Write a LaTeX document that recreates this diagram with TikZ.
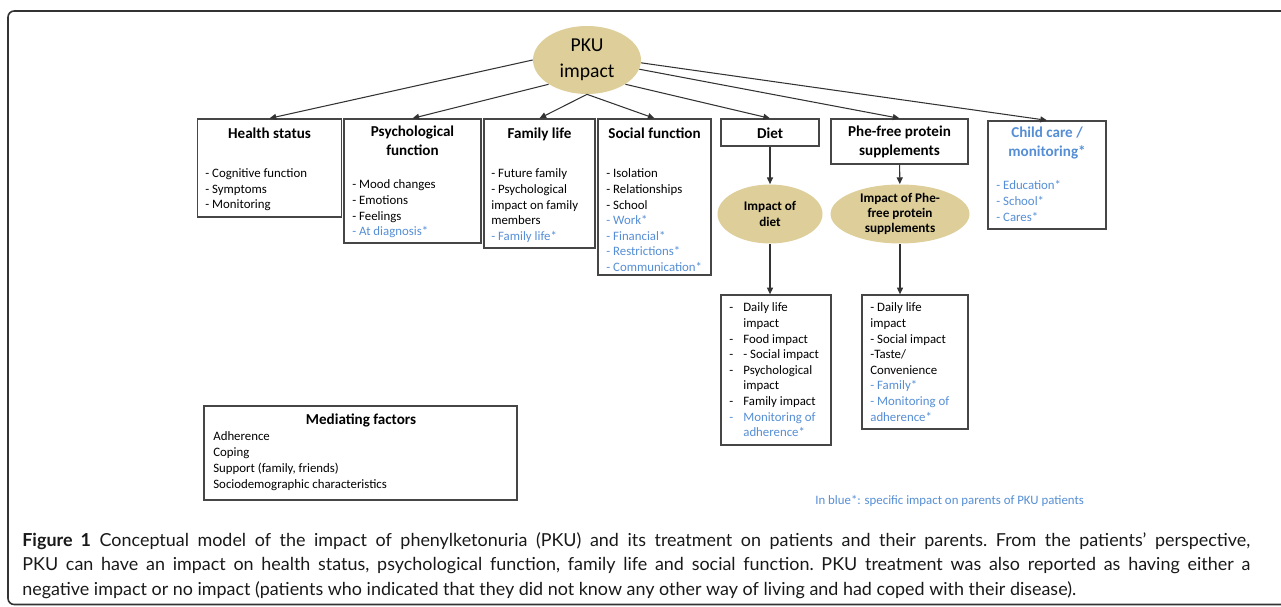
\documentclass[tikz,border=0pt]{standalone}
\usepackage{fontspec}
\setmainfont{Carlito}
\newfontfamily\captionfont{Lato}
\usetikzlibrary{ arrows.meta,      % For the small triangle tips
                 fit,              % For boxes given by their corners
                 shapes.geometric, % For ellipse
                 positioning,
               }

\definecolor{pkutan}{RGB}{221,206,154}
\definecolor{parentblue}{RGB}{85,142,213}
\definecolor{boxline}{RGB}{70,70,70}
\newcommand{\pb}[1]{\textcolor{parentblue}{#1}}
\newcommand{\itemdash}{\makebox[0.28cm][l]{-}}
\newcommand{\itemgap}{\hspace*{0.28cm}}

\begin{document}
\begin{tikzpicture}[x=0.02cm, y=-0.02cm,
    box/.style={draw=boxline, line width=0.75pt, inner sep=0pt},
    bubble/.style={ellipse, fill=pkutan, inner sep=0pt},
    head/.style={inner sep=0pt, align=center, anchor=north, execute at begin node=\strut,
                 font=\bfseries\fontsize{8.6}{10.8}\selectfont},
    items/.style={inner sep=0pt, align=left, anchor=north west, execute at begin node=\strut,
                  font=\fontsize{7.3}{8.9}\selectfont},
    arr/.style={draw=black!80, line width=0.6pt, -{Triangle[length=3.8pt,width=3.4pt]}},
  ] % pixels of the reference as units
  \useasboundingbox (0,0) rectangle (1281,607);
  \draw[draw=black!80, line width=0.9pt, rounded corners=3.5pt] (1300,11) -| (8,604.5) -- (1300,604.5);

  \node[bubble, minimum width=2.16cm, minimum height=1.36cm] (pku) at (587,60) {};
  \node[inner sep=0pt, align=center, font=\fontsize{11.2}{14.5}\selectfont] (pku_t) at (pku) {PKU\\impact};

  % first row
  \node[box, fit={(197.6,119) (341.5,217)}] (health) {};
  \node[head] (health_t) at (269.5,125) {Health status};
  \node[items] (health_l) at (205,168.5) {- Cognitive function\\- Symptoms\\- Monitoring};

  \node[box, fit={(344,119) (481,243)}] (psych) {};
  \node[head] (psych_t) at (412.5,126) {Psychological\\function};
  \node[items] (psych_l) at (352,179.5) {- Mood changes\\- Emotions\\- Feelings\\\pb{- At diagnosis*}};

  \node[box, fit={(484,119) (595,248)}] (family_life) {};
  \node[head] (family_t) at (539.5,125) {Family life};
  \node[items] (family_l) at (491,168.5) {- Future family\\- Psychological\\impact on family\\members\\\pb{- Family life*}};

  \node[box, fit={(598,119) (711,275)}] (social) {};
  \node[head] (social_t) at (654.5,125) {Social function};
  \node[items] (social_l) at (606,168.5) {- Isolation\\- Relationships\\- School\\\pb{- Work*}\\\pb{- Financial*}\\\pb{- Restrictions*}\\\pb{- Communication*}};

  \node[box, fit={(721,119) (819,146)}] (diet) {};
  \node[head] (diet_t) at (770,125) {Diet};

  \node[box, fit={(831,119) (968,164)}] (phe_free) {};
  \node[head] (phe_free_t) at (899.5,126) {Phe-free protein\\supplements};

  \node[box, fit={(988,121) (1106,229)}] (child_care) {};
  \node[head, text=parentblue] (child_t) at (1047,127) {Child care /\\monitoring*};
  \node[items, text=parentblue] (child_l) at (996,180.5) {- Education*\\- School*\\- Cares*};

  % treatment effects
  \node[bubble, minimum width=2.1cm, minimum height=1.18cm] (diet_impact) at (770,214) {};
  \node[inner sep=0pt, align=center, font=\bfseries\fontsize{7.5}{8.6}\selectfont] (diet_impact_t) at (diet_impact) {Impact of\\diet};
  \node[bubble, minimum width=2.78cm, minimum height=1.18cm] (phe_impact) at (900,214) {};
  \node[inner sep=0pt, align=center, font=\bfseries\fontsize{7.5}{8.6}\selectfont] (phe_impact_t) at (phe_impact) {Impact of Phe-\\free protein\\supplements};

  \node[box, fit={(721,295) (831,445)}] (diet_effects) {};
  \node[items] (diet_effects_l) at (729,302.5) {\itemdash Daily life\\\itemgap impact\\\itemdash Food impact\\\itemdash - Social impact\\\itemdash Psychological\\\itemgap impact\\\itemdash Family impact\\\pb{\itemdash Monitoring of}\\\pb{\itemgap adherence*}};

  \node[box, fit={(862,295) (968,429)}] (phe_effects) {};
  \node[items] (phe_effects_l) at (870,302.5) {- Daily life\\impact\\- Social impact\\-Taste/\\Convenience\\\pb{- Family*}\\\pb{- Monitoring of}\\\pb{adherence*}};

  % mediating factors and note
  \node[box, fit={(204,406) (517,500)}] (mediating) {};
  \node[head] (mediating_t) at (361,410.6) {Mediating factors};
  \node[items, font=\fontsize{7.3}{9.07}\selectfont] (mediating_l) at (213,431.3) {Adherence\\Coping\\Support (family, friends)\\Sociodemographic characteristics};

  \node[inner sep=0pt, anchor=base west, text=parentblue, font=\fontsize{7.3}{8.5}\selectfont] (note) at (815,504) {In blue*: specific impact on parents of PKU patients};

  \draw[arr] (pku.west) -- (health.north);
  \draw[arr] (pku.south west) -- (psych.north);
  \draw[arr] (pku.south) -- (family_life.north);
  \draw[arr] (pku.south) -- (social.north);
  \draw[arr] (pku.south east) -- (diet.north);
  \draw[arr] (pku.-10) -- (phe_free.north);
  \draw[arr] (pku.-3) -- (child_care.north);

  \draw[arr] (diet) -- (diet_impact);
  \draw[arr] (phe_free) -- (phe_impact);
  \draw[arr] (diet_impact.south) -- (diet_impact.south |- diet_effects.north);
  \draw[arr] (phe_impact.south) -- (phe_impact.south |- phe_effects.north);

  \node[inner sep=0pt, anchor=north west, text width=24.56cm, align=justify, text=black!90,
        font=\captionfont\frenchspacing\fontsize{10.2}{13.9}\selectfont] (caption) at (22,532)
    {\textbf{Figure 1} Conceptual model of the impact of phenylketonuria (PKU) and its treatment on patients and their parents. From the patients’ perspective,\linebreak
     PKU can have an impact on health status, psychological function, family life and social function. PKU treatment was also reported as having either a\linebreak
     negative impact or no impact (patients who indicated that they did not know any other way of living and had coped with their disease).};
\end{tikzpicture}
\end{document}
